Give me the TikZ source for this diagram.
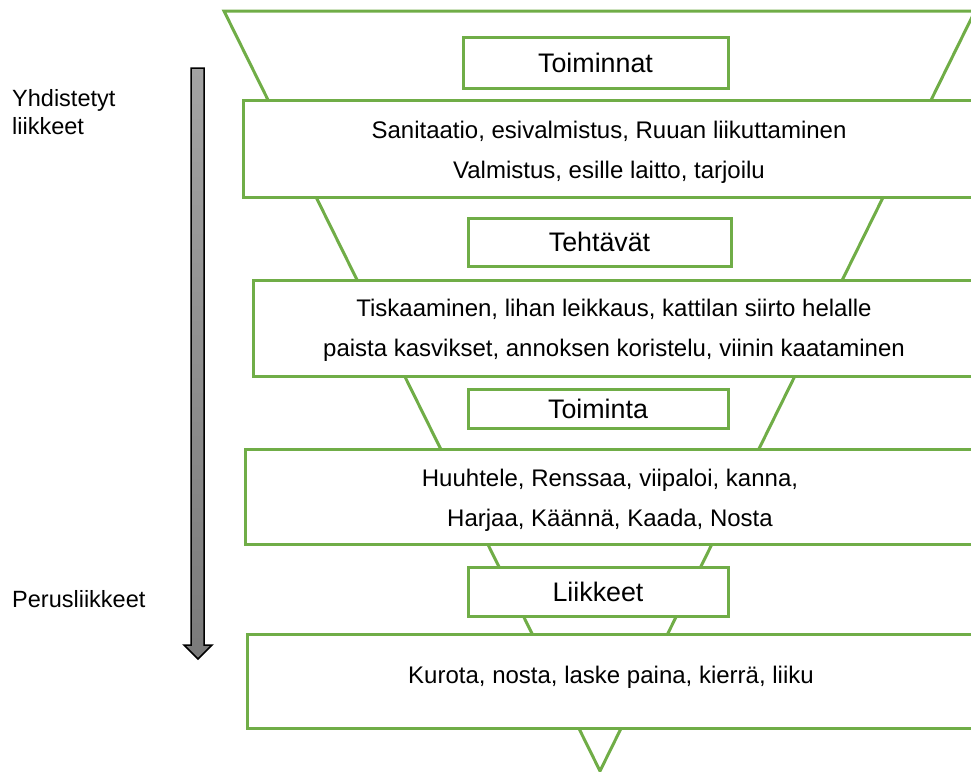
\documentclass[tikz,border=0pt]{standalone}
\usepackage{fontspec}
\setmainfont{Liberation Sans}
\usetikzlibrary{shapes.geometric}
\definecolor{funnelgreen}{HTML}{70AD47}
\definecolor{arrowtop}{HTML}{A3A3A3}
\definecolor{arrowbot}{HTML}{7A7A7A}

\tikzset{
  greenbox/.style={draw=funnelgreen, line width=3pt, fill=white,
    rectangle, inner sep=0pt, outer sep=0pt},
  bodytext/.style={inner sep=0pt, anchor=base,
    font=\fontsize{24}{28}\selectfont},
  headtext/.style={inner sep=0pt, anchor=base,
    font=\fontsize{26.8}{30}\selectfont},
  sidetext/.style={inner sep=0pt, anchor=base west,
    font=\fontsize{23.5}{28}\selectfont},
}

\begin{document}
\begin{tikzpicture}[x=1pt, y=-1pt]
  \useasboundingbox (0,0) rectangle (971,771);
  \clip (0,0) rectangle (971,771);

  % funnel outline behind the boxes
  \coordinate (ftl) at (224,11);
  \coordinate (ftr) at (975,11);
  \coordinate (fap) at (600,771);
  \draw[funnelgreen, line width=3pt, line join=miter] (ftl) -- (ftr) -- (fap) -- cycle;

  % stage boxes
  \node[greenbox, minimum width=732pt, minimum height=97pt] (b1) at (609,148.5) {};
  \node[greenbox, minimum width=722pt, minimum height=96pt] (b2) at (614,328) {};
  \node[greenbox, minimum width=730pt, minimum height=95pt] (b3) at (610,496.5) {};
  \node[greenbox, minimum width=728pt, minimum height=94pt] (b4) at (611,681) {};

  % level headings
  \node[greenbox, minimum width=265pt, minimum height=51pt] (h1) at (595.5,62.5) {};
  \node[greenbox, minimum width=263pt, minimum height=48pt] (h2) at (599.5,242) {};
  \node[greenbox, minimum width=260pt, minimum height=39pt] (h3) at (598,408.5) {};
  \node[greenbox, minimum width=260pt, minimum height=49pt] (h4) at (598,591.5) {};

  \node[headtext] (t1) at (595.5,72) {Toiminnat};
  \node[headtext] (t2) at (599.5,251.5) {Tehtävät};
  \node[headtext] (t3) at (598,418) {Toiminta};
  \node[headtext] (t4) at (598,601) {Liikkeet};

  % box contents
  \node[bodytext] (l1a) at (609,138) {Sanitaatio, esivalmistus, Ruuan liikuttaminen};
  \node[bodytext] (l1b) at (609,178) {Valmistus, esille laitto, tarjoilu};
  \node[bodytext] (l2a) at (614,316) {Tiskaaminen, lihan leikkaus, kattilan siirto helalle};
  \node[bodytext] (l2b) at (614,356) {paista kasvikset, annoksen koristelu, viinin kaataminen};
  \node[bodytext] (l3a) at (610,486) {Huuhtele, Renssaa, viipaloi, kanna,};
  \node[bodytext] (l3b) at (610,526) {Harjaa, Käännä, Kaada, Nosta};
  \node[bodytext] (l4a) at (611,683) {Kurota, nosta, laske paina, kierrä, liiku};

  % side scale
  \node[sidetext] (s1) at (12,106) {Yhdistetyt};
  \node[sidetext] (s2) at (12,134) {liikkeet};
  \node[sidetext] (s3) at (12,607) {Perusliikkeet};

  \draw[black, line width=1.5pt, line join=miter, top color=arrowtop, bottom color=arrowbot]
    (191,68) -- (204,68) -- (204,645) -- (212,645) -- (198,659) -- (184,645) -- (191,645) -- cycle;
\end{tikzpicture}
\end{document}
